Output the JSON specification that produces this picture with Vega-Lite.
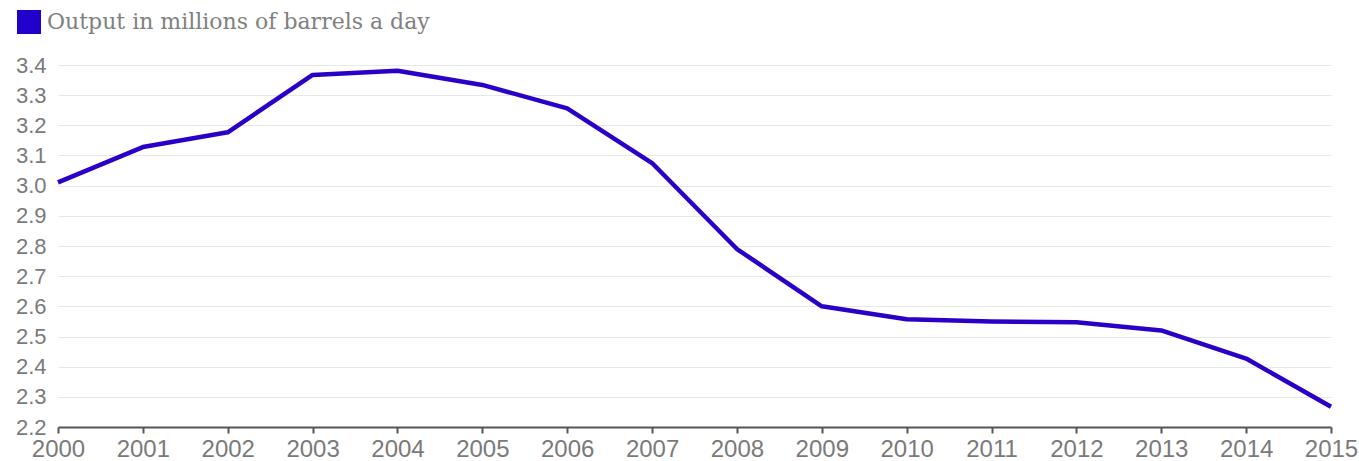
{
  "$schema": "https://vega.github.io/schema/vega-lite/v6.json",
  "width": 1273,
  "height": 362,
  "autosize": {"type": "none"},
  "padding": {"left": 58, "top": 65, "right": 28, "bottom": 34},
  "background": "white",
  "config": {"view": {"stroke": null}},
  "data": {
    "values": [
      {"year": 2000, "output": 3.011, "series": "Output in millions of barrels a day"},
      {"year": 2001, "output": 3.128, "series": "Output in millions of barrels a day"},
      {"year": 2002, "output": 3.177, "series": "Output in millions of barrels a day"},
      {"year": 2003, "output": 3.367, "series": "Output in millions of barrels a day"},
      {"year": 2004, "output": 3.381, "series": "Output in millions of barrels a day"},
      {"year": 2005, "output": 3.334, "series": "Output in millions of barrels a day"},
      {"year": 2006, "output": 3.256, "series": "Output in millions of barrels a day"},
      {"year": 2007, "output": 3.075, "series": "Output in millions of barrels a day"},
      {"year": 2008, "output": 2.790, "series": "Output in millions of barrels a day"},
      {"year": 2009, "output": 2.600, "series": "Output in millions of barrels a day"},
      {"year": 2010, "output": 2.557, "series": "Output in millions of barrels a day"},
      {"year": 2011, "output": 2.550, "series": "Output in millions of barrels a day"},
      {"year": 2012, "output": 2.547, "series": "Output in millions of barrels a day"},
      {"year": 2013, "output": 2.520, "series": "Output in millions of barrels a day"},
      {"year": 2014, "output": 2.427, "series": "Output in millions of barrels a day"},
      {"year": 2015, "output": 2.267, "series": "Output in millions of barrels a day"}
    ]
  },
  "mark": {"type": "line", "strokeWidth": 4.5, "strokeJoin": "round"},
  "encoding": {
    "x": {
      "field": "year",
      "type": "quantitative",
      "scale": {"domain": [2000, 2015], "nice": false, "zero": false},
      "axis": {
        "title": null,
        "values": [2000,2001,2002,2003,2004,2005,2006,2007,2008,2009,2010,2011,2012,2013,2014,2015],
        "format": "d",
        "grid": false,
        "domainColor": "#555555",
        "domainWidth": 2,
        "tickColor": "#555555",
        "tickWidth": 2,
        "tickSize": 6,
        "labelFont": "Liberation Sans",
        "labelFontSize": 24,
        "labelColor": "#7a7a7a",
        "labelPadding": 4,
        "labelFlush": false,
        "labelOverlap": false
      }
    },
    "y": {
      "field": "output",
      "type": "quantitative",
      "scale": {"domain": [2.2, 3.4], "nice": false, "zero": false},
      "axis": {
        "title": null,
        "values": [2.2,2.3,2.4,2.5,2.6,2.7,2.8,2.9,3.0,3.1,3.2,3.3,3.4],
        "format": ".1f",
        "domain": false,
        "ticks": false,
        "grid": true,
        "gridColor": "#e8e8e8",
        "gridWidth": 1,
        "labelFont": "Liberation Sans",
        "labelFontSize": 22,
        "labelColor": "#7a7a7a",
        "labelPadding": 12,
        "labelOverlap": false
      }
    },
    "color": {
      "field": "series",
      "type": "nominal",
      "scale": {"range": ["#2a00c8"]},
      "legend": {
        "title": null,
        "orient": "none",
        "legendX": -41,
        "legendY": -55,
        "symbolType": "square",
        "symbolSize": 576,
        "symbolFillColor": "#2200cc",
        "symbolStrokeWidth": 0,
        "labelFont": "DejaVu Serif",
        "labelFontSize": 22,
        "labelLimit": 600,
        "labelColor": "#808080",
        "labelOffset": 6
      }
    }
  }
}
